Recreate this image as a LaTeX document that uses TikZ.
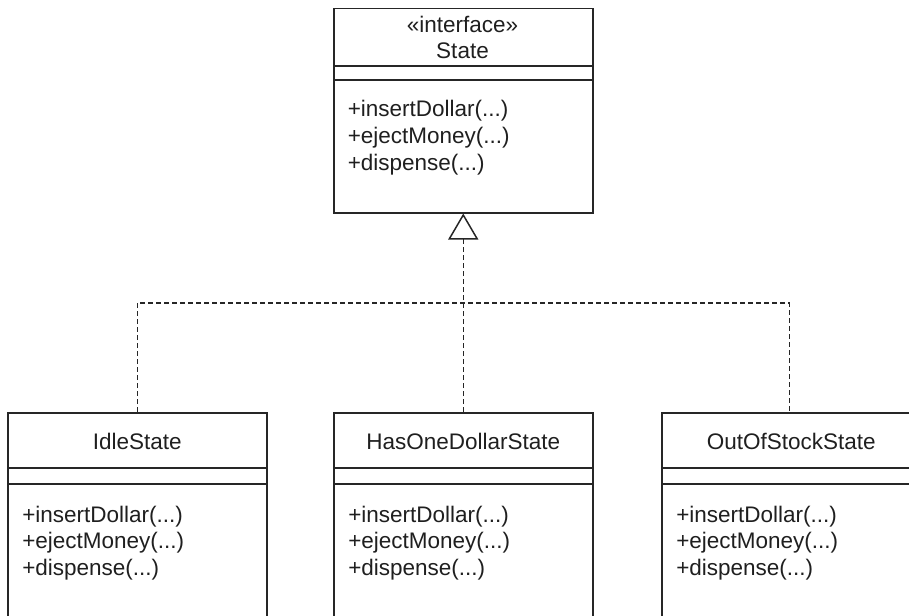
\documentclass[tikz,border=0pt]{standalone}
\usepackage{fontspec}
\setmainfont{Liberation Sans}
\usetikzlibrary{arrows.meta}
\begin{document}
\begin{tikzpicture}[x=1pt,y=-1pt,line width=1.5pt,
  classbox/.style={draw=black!85,minimum width=259pt,anchor=north west,inner sep=0pt},
  txt/.style={font=\fontsize{22.5}{26}\selectfont,text=black!88,inner sep=0pt},
  divider/.style={draw=black!85},
  realize/.style={draw=black!85,dash pattern=on 5pt off 3pt},
  tip/.style={-{Triangle[open,length=26pt,width=30pt]}}]
\useasboundingbox (0,0) rectangle (909,615);
\clip (0,0) rectangle (909,615);
% interface
\node[classbox,minimum height=204pt] (state) at (333,8) {};
\draw[divider] ([yshift=-58pt]state.north west) -- ([yshift=-58pt]state.north east);
\draw[divider] ([yshift=-72pt]state.north west) -- ([yshift=-72pt]state.north east);
\node[txt,anchor=base] (stateStereo) at (462.5,33) {«interface»};
\node[txt,anchor=base] (stateName) at (462.5,59) {State};
\node[txt,anchor=base west] (stateM1) at (347,117) {+insertDollar(...)};
\node[txt,anchor=base west] (stateM2) at (347,143.5) {+ejectMoney(...)};
\node[txt,anchor=base west] (stateM3) at (347,170) {+dispense(...)};
% concrete states
\foreach \n/\x/\t in {idle/7/IdleState,has/333/HasOneDollarState,out/661/OutOfStockState}{
  \node[classbox,minimum height=238pt] (\n) at (\x,412) {};
  \draw[divider] ([yshift=-56pt]\n.north west) -- ([yshift=-56pt]\n.north east);
  \draw[divider] ([yshift=-72pt]\n.north west) -- ([yshift=-72pt]\n.north east);
  \node[txt,anchor=base] (\n Name) at ([yshift=-37pt]\n.north) {\t};
  \node[txt,anchor=base west] (\n M1) at ([xshift=14.5pt,yshift=-110pt]\n.north west) {+insertDollar(...)};
  \node[txt,anchor=base west] (\n M2) at ([xshift=14.5pt,yshift=-136.5pt]\n.north west) {+ejectMoney(...)};
  \node[txt,anchor=base west] (\n M3) at ([xshift=14.5pt,yshift=-163pt]\n.north west) {+dispense(...)};
}
% realization
\coordinate (junction) at (462.5,303);
\draw[realize] (idle.north) -- (idle.north |- junction) -- ([xshift=-2pt]out.north |- junction) -- ([xshift=-2pt]out.north);
\draw[realize,tip] (has.north) -- (state.south);
\end{tikzpicture}
\end{document}
